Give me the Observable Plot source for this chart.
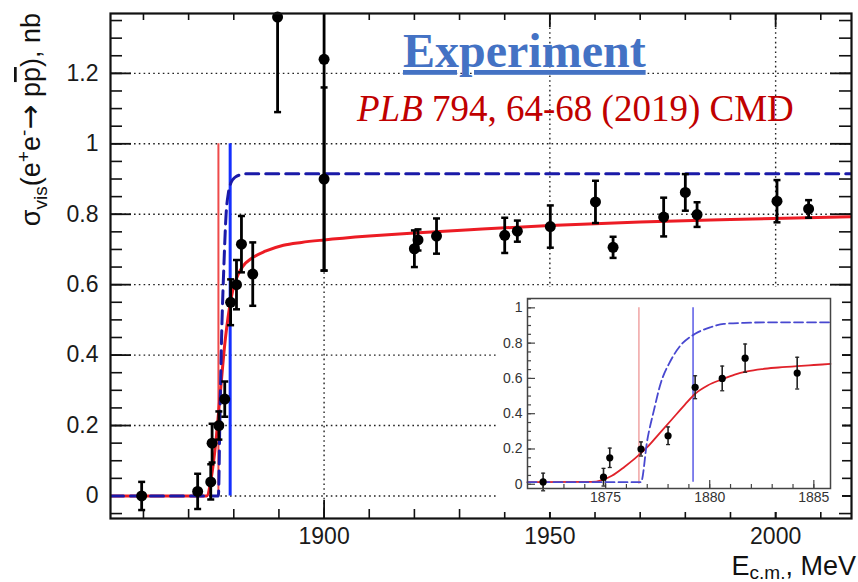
<!DOCTYPE html>
<html>
<head>
<meta charset="utf-8">
<script src="https://cdn.jsdelivr.net/npm/d3@7"></script>
<script src="https://cdn.jsdelivr.net/npm/@observablehq/plot@0.6"></script>
<style>
  html, body { margin: 0; padding: 0; background: #fff; }
  #wrap { position: relative; width: 858px; height: 582px; overflow: hidden; background: #fff; }
  #main, #inset, #overlay { position: absolute; }
  #main { left: 0; top: 0; }
  #inset { left: 498px; top: 287px; }
  #overlay { left: 0; top: 0; pointer-events: none; }
</style>
</head>
<body>
<div id="wrap">
  <div id="main"></div>
  <div id="inset"></div>
  <div id="overlay"></div>
</div>
<script>
// ---------------- data ----------------
// measured visible cross section, nb
const energy = [1859.6, 1872.0, 1874.9, 1875.2, 1876.7, 1878.0, 1879.3, 1880.6, 1881.7, 1884.2,
                1889.7, 1900.0, 1900.0, 1920.0, 1920.8, 1924.9, 1940.0, 1942.8, 1950.1, 1960.1,
                1964.0, 1975.2, 1980.0, 1982.6, 2000.3, 2007.3];
const xsec   = [0.000, 0.013, 0.040, 0.150, 0.200, 0.275, 0.550, 0.600, 0.715, 0.630,
                1.360, 1.240, 0.900, 0.702, 0.727, 0.738, 0.740, 0.752, 0.765, 0.835,
                0.706, 0.792, 0.862, 0.799, 0.837, 0.815];
const xsecErr = [0.040, 0.050, 0.050, 0.055, 0.040, 0.050, 0.065, 0.070, 0.080, 0.090,
                 0.270, 0.600, 0.260, 0.052, 0.030, 0.050, 0.050, 0.030, 0.060, 0.060,
                 0.030, 0.055, 0.052, 0.035, 0.060, 0.025];

// fit curve (red, solid) in the main panel
const fitE = [1852.7, 1874.0, 1875.0, 1876.0, 1877.0, 1878.0, 1879.0, 1880.0, 1881.0, 1882.0,
              1884.0, 1887.0, 1891.0, 1895.0, 1900.0, 1910.0, 1920.0, 1935.0, 1950.0, 1970.0,
              1990.0, 2016.8];
const fitS = [0.000, 0.000, 0.050, 0.150, 0.290, 0.430, 0.530, 0.595, 0.630, 0.652,
              0.675, 0.695, 0.712, 0.720, 0.727, 0.738, 0.747, 0.758, 0.768, 0.778,
              0.785, 0.793];

// model without resolution (blue, dashed) in the main panel
const modelE = [1852.7, 1876.6, 1876.9, 1877.3, 1877.8, 1878.3, 1878.8, 1879.4, 1880.3, 1881.5, 1883.0, 2016.8];
const modelS = [0.000, 0.000, 0.200, 0.450, 0.650, 0.800, 0.860, 0.890, 0.905, 0.912, 0.915, 0.915];

// inset: fit curve and model near threshold
const insetFitE = [1871.25, 1874.3, 1874.8, 1875.3, 1875.9, 1876.4, 1877.0, 1877.6, 1878.2, 1878.8,
                   1879.3, 1879.9, 1880.6, 1881.2, 1881.8, 1882.5, 1883.3, 1884.2, 1885.0, 1885.8];
const insetFitS = [0.012, 0.013, 0.022, 0.048, 0.098, 0.145, 0.210, 0.290, 0.370, 0.450,
                   0.513, 0.560, 0.595, 0.622, 0.640, 0.653, 0.662, 0.670, 0.676, 0.682];
const insetModelE = [1871.25, 1876.7, 1877.0, 1877.32, 1877.64, 1878.12, 1878.6, 1879.3, 1880.04, 1880.68, 1881.64, 1883.0, 1885.8];
const insetModelS = [0.012, 0.012, 0.249, 0.419, 0.570, 0.700, 0.787, 0.853, 0.890, 0.909, 0.915, 0.918, 0.918];

// p pbar and n nbar thresholds, MeV
const thresholds = [1876.6, 1879.2];

// tick labels
const yTickLabels = [0, 0.2, 0.4, 0.6, 0.8, 1, 1.2];
const xTickLabels = [1900, 1950, 2000];
const insetYTickLabels = [0, 0.2, 0.4, 0.6, 0.8, 1];
const insetXTickLabels = [1875, 1880, 1885];

// ---------------- build tables ----------------
const points = energy.map((e, i) => ({E: e, s: xsec[i], lo: xsec[i] - xsecErr[i], hi: xsec[i] + xsecErr[i]}));
const insetPoints = points.filter(d => d.E > 1871.25 && d.E < 1885.8);
const fit = fitE.map((e, i) => ({E: e, s: fitS[i]}));
const model = modelE.map((e, i) => ({E: e, s: modelS[i]}));
const insetFit = insetFitE.map((e, i) => ({E: e, s: insetFitS[i]}));
const insetModel = insetModelE.map((e, i) => ({E: e, s: insetModelS[i]}));

// horizontal cap symbol (constant pixel width)
const capSymbol = {
  draw(context, size) {
    const w = Math.sqrt(size / Math.PI);
    context.moveTo(-w, 0);
    context.lineTo(w, 0);
  }
};

// ---------------- main panel ----------------
const W = 858, H = 582;
const mL = 110, mR = 7, mT = 13, mB = 64;
const iw = W - mL - mR, ih = H - mT - mB;

const yMinor = d3.range(-0.05, 1.36, 0.05);
const xMinor = d3.range(1860, 2016, 10);

const main = Plot.plot({
  width: W, height: H,
  marginLeft: mL, marginRight: mR, marginTop: mT, marginBottom: mB,
  x: {domain: [1852.7, 2016.8]},
  y: {domain: [-0.064, 1.37]},
  style: {fontFamily: "'Liberation Sans', Arial, sans-serif", fontSize: "23px", color: "#111", background: "#fff", overflow: "visible"},
  marks: [
    // dotted grid
    Plot.ruleY(yTickLabels, {y: d => d, stroke: "#222", strokeWidth: 1.4, strokeDasharray: "1.6,3.2"}),
    Plot.ruleX(xTickLabels, {x: d => d, stroke: "#222", strokeWidth: 1.4, strokeDasharray: "1.6,3.2"}),
    // ticks left/right
    Plot.ruleY(yMinor, {y: d => d, insetRight: iw - 12, stroke: "#111", strokeWidth: 1.6}),
    Plot.ruleY(yTickLabels, {y: d => d, insetRight: iw - 21, stroke: "#111", strokeWidth: 1.8}),
    Plot.ruleY(yMinor, {y: d => d, insetLeft: iw - 12, stroke: "#111", strokeWidth: 1.6}),
    Plot.ruleY(yTickLabels, {y: d => d, insetLeft: iw - 21, stroke: "#111", strokeWidth: 1.8}),
    // ticks bottom/top
    Plot.ruleX(xMinor, {x: d => d, insetTop: ih - 9, stroke: "#111", strokeWidth: 1.6}),
    Plot.ruleX(xTickLabels, {x: d => d, insetTop: ih - 18, stroke: "#111", strokeWidth: 1.8}),
    Plot.ruleX(xMinor, {x: d => d, insetBottom: ih - 7, stroke: "#111", strokeWidth: 1.6}),
    Plot.ruleX(xTickLabels, {x: d => d, insetBottom: ih - 14, stroke: "#111", strokeWidth: 1.8}),
    // threshold lines
    Plot.ruleX([thresholds[0]], {x: d => d, y1: 0, y2: 1, stroke: "#ee4a4a", strokeWidth: 2}),
    Plot.ruleX([thresholds[1]], {x: d => d, y1: 0, y2: 1, stroke: "#1530ff", strokeWidth: 3}),
    // curves
    Plot.line(fit, {x: "E", y: "s", stroke: "#ec1c24", strokeWidth: 3, curve: "monotone-x", clip: true}),
    Plot.line(model, {x: "E", y: "s", stroke: "#1a1aa8", strokeWidth: 3, strokeDasharray: "13,7", curve: "monotone-x", clip: true}),
    // data with error bars
    Plot.ruleX(points, {x: "E", y1: "lo", y2: "hi", stroke: "#000", strokeWidth: 2.8, clip: true}),
    Plot.dot(points, {x: "E", y: "lo", symbol: capSymbol, r: 3.5, stroke: "#000", strokeWidth: 2.5, fill: "none", clip: true}),
    Plot.dot(points, {x: "E", y: "hi", symbol: capSymbol, r: 3.5, stroke: "#000", strokeWidth: 2.5, fill: "none", clip: true}),
    Plot.dot(points, {x: "E", y: "s", r: 5.5, fill: "#000", stroke: "none"}),
    // frame
    Plot.frame({stroke: "#111", strokeWidth: 2.2}),
    // axes labels
    Plot.axisY({ticks: yTickLabels, tickSize: 0, tickPadding: 12, tickFormat: d => String(d), fontSize: 23, fill: "#1a1a1a", label: null}),
    Plot.axisX({ticks: xTickLabels, tickSize: 0, tickPadding: 9, tickFormat: d => String(d), fontSize: 23, fill: "#1a1a1a", label: null})
  ]
});
document.getElementById("main").appendChild(main);

// ---------------- inset panel ----------------
const IW = 344, IH = 225;
const iL = 29, iR = 12, iT = 11, iB = 24;
const iiw = IW - iL - iR, iih = IH - iT - iB;
const insetYMinor = d3.range(0, 1.051, 0.05);
const insetXMinor = d3.range(1872, 1885.5, 1);

const inset = Plot.plot({
  width: IW, height: IH,
  marginLeft: iL, marginRight: iR, marginTop: iT, marginBottom: iB,
  x: {domain: [1871.25, 1885.8]},
  y: {domain: [-0.024, 1.053]},
  style: {fontFamily: "'Liberation Sans', Arial, sans-serif", fontSize: "14px", color: "#333", background: "#fff", overflow: "visible"},
  marks: [
    Plot.ruleY(insetYMinor, {y: d => d, insetRight: iiw - 4, stroke: "#444", strokeWidth: 1.2}),
    Plot.ruleY(insetYTickLabels, {y: d => d, insetRight: iiw - 8, stroke: "#444", strokeWidth: 1.2}),
    Plot.ruleX(insetXMinor, {x: d => d, insetTop: iih - 4, stroke: "#444", strokeWidth: 1.2}),
    Plot.ruleX(insetXTickLabels, {x: d => d, insetTop: iih - 8, stroke: "#444", strokeWidth: 1.2}),
    Plot.ruleX([thresholds[0]], {x: d => d, y1: 0, y2: 1, stroke: "#f0a4a4", strokeWidth: 1.5}),
    Plot.ruleX([thresholds[1]], {x: d => d, y1: 0.012, y2: 1, stroke: "#5a5ae6", strokeWidth: 1.5}),
    Plot.line(insetFit, {x: "E", y: "s", stroke: "#e0222a", strokeWidth: 1.8, curve: "monotone-x"}),
    Plot.line(insetModel, {x: "E", y: "s", stroke: "#4848d0", strokeWidth: 1.8, strokeDasharray: "9,4", curve: "monotone-x"}),
    Plot.ruleX(insetPoints, {x: "E", y1: "lo", y2: "hi", stroke: "#222", strokeWidth: 1.6}),
    Plot.dot(insetPoints, {x: "E", y: "hi", symbol: capSymbol, r: 2, stroke: "#222", strokeWidth: 1.3, fill: "none"}),
    Plot.dot(insetPoints, {x: "E", y: "lo", symbol: capSymbol, r: 2, stroke: "#222", strokeWidth: 1.3, fill: "none"}),
    Plot.dot(insetPoints, {x: "E", y: "s", r: 3.6, fill: "#000", stroke: "none"}),
    Plot.frame({stroke: "#444", strokeWidth: 1.5}),
    Plot.axisY({ticks: insetYTickLabels, tickSize: 0, tickPadding: 5, tickFormat: d => String(d), fontSize: 14, fill: "#333", label: null}),
    Plot.axisX({ticks: insetXTickLabels, tickSize: 0, tickPadding: 4, tickFormat: d => String(d), fontSize: 14, fill: "#333", label: null})
  ]
});
document.getElementById("inset").appendChild(inset);

// ---------------- texts (titles and annotations) ----------------
const svg = d3.select("#overlay").append("svg")
  .attr("width", W).attr("height", H)
  .style("font-family", "'Liberation Sans', Arial, sans-serif");

// y-axis title
const yt = svg.append("text")
  .attr("transform", "translate(40,13) rotate(-90)")
  .attr("text-anchor", "end")
  .attr("font-size", 27)
  .attr("fill", "#111");
yt.append("tspan").text("σ");
yt.append("tspan").attr("font-size", 19).attr("dy", 7).text("vis");
yt.append("tspan").attr("dy", -7).text("(e");
yt.append("tspan").attr("font-size", 19).attr("dy", -10).text("+");
yt.append("tspan").attr("dy", 10).text("e");
yt.append("tspan").attr("font-size", 19).attr("dy", -10).text("-");
yt.append("tspan").attr("dy", 10).attr("font-family", "'DejaVu Sans', sans-serif").attr("font-size", 30).text("\u2192");
yt.append("tspan").text(" p");
yt.append("tspan").attr("text-decoration", "overline").text("p");
yt.append("tspan").text("), nb");

// x-axis title
const xt = svg.append("text")
  .attr("x", 856).attr("y", 575)
  .attr("text-anchor", "end")
  .attr("font-size", 27)
  .attr("fill", "#111");
xt.append("tspan").text("E");
xt.append("tspan").attr("font-size", 19).attr("dy", 4).text("c.m.");
xt.append("tspan").attr("dy", -4).text(", MeV");

// annotation
svg.append("text")
  .attr("x", 403).attr("y", 67)
  .attr("font-family", "'Liberation Serif', 'Times New Roman', serif")
  .attr("font-weight", "bold")
  .attr("font-size", 48)
  .attr("fill", "#4472c4")
  .attr("text-decoration", "underline")
  .text("Experiment");

const ref = svg.append("text")
  .attr("x", 357).attr("y", 121)
  .attr("font-family", "'Liberation Serif', 'Times New Roman', serif")
  .attr("font-size", 37)
  .attr("fill", "#c00000");
ref.append("tspan").attr("font-style", "italic").text("PLB");
ref.append("tspan").text(" 794, 64-68 (2019) CMD");
</script>
</body>
</html>
